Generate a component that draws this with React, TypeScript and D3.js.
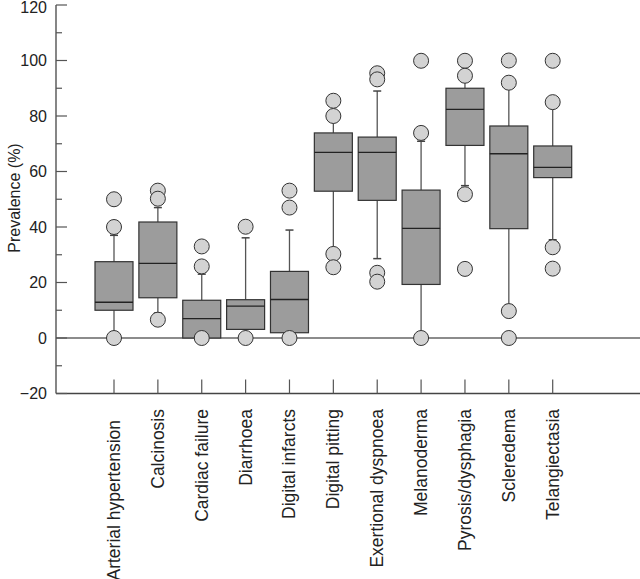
import React, { useEffect, useRef } from 'react';
import * as d3 from 'd3';

const categories = [
  'Arterial hypertension', 'Calcinosis', 'Cardiac failure', 'Diarrhoea', 'Digital infarcts',
  'Digital pitting', 'Exertional dyspnoea', 'Melanoderma', 'Pyrosis/dysphagia', 'Scleredema', 'Telangiectasia'
];
const q1 = [10, 14.5, 0, 3.1, 1.9, 52.9, 49.6, 19.3, 69.4, 39.4, 57.8];
const medians = [12.9, 26.9, 7, 11.5, 13.9, 66.9, 66.9, 39.5, 82.4, 66.4, 61.5];
const q3 = [27.5, 41.8, 13.6, 13.8, 24, 73.9, 72.4, 53.3, 90, 76.4, 69.2];
const whiskerLow = [2, 9, 0, 1, 1, 32, 28.6, 1, 54.9, 12, 35.4];
const whiskerHigh = [37, 47, 23, 36.1, 38.9, 78, 89, 70.9, 93, 90, 83];
const outliers = [
  [50, 40, 0],
  [53.1, 50.2, 6.6],
  [33, 25.8, 0],
  [40.1, 0],
  [53.1, 47, 0],
  [85.5, 80, 30.3, 25.5],
  [95.4, 93.2, 23.5, 20.3],
  [99.9, 73.9, 0],
  [99.9, 94.5, 51.8, 24.9],
  [100, 92, 9.7, 0],
  [99.9, 85, 32.7, 25]
];
const yTicks = [-20, 0, 20, 40, 60, 80, 100, 120];
const yMinorTicks = [-10, 10, 30, 50, 70, 90, 110];

export default function App() {
  const ref = useRef<SVGSVGElement>(null);

  useEffect(() => {
    document.body.style.margin = '0';
    const svg = d3.select(ref.current);
    svg.selectAll('*').remove();

    const width = 640;
    const height = 579;
    const left = 56;
    const font = 'Arial, "Liberation Sans", sans-serif';

    const y = d3.scaleLinear().domain([-20, 120]).range([393.5, 5]);
    const x = d3.scalePoint<string>().domain(categories).range([114, 552.7]);
    const boxW = 38;

    svg.attr('width', width).attr('height', height);

    // zero line
    svg.append('line')
      .attr('x1', left).attr('x2', width)
      .attr('y1', y(0)).attr('y2', y(0))
      .attr('stroke', '#8c8c8c').attr('stroke-width', 2);

    // axes
    svg.append('line')
      .attr('x1', left).attr('x2', left)
      .attr('y1', y(120)).attr('y2', y(-20))
      .attr('stroke', '#444').attr('stroke-width', 1.3);
    svg.append('line')
      .attr('x1', left).attr('x2', width)
      .attr('y1', y(-20)).attr('y2', y(-20))
      .attr('stroke', '#444').attr('stroke-width', 1.3);

    svg.selectAll('.ymaj').data(yTicks).enter().append('line')
      .attr('x1', left).attr('x2', left + 11)
      .attr('y1', d => y(d)).attr('y2', d => y(d))
      .attr('stroke', '#555').attr('stroke-width', 1.2);
    svg.selectAll('.ymin').data(yMinorTicks).enter().append('line')
      .attr('x1', left).attr('x2', left + 6)
      .attr('y1', d => y(d)).attr('y2', d => y(d))
      .attr('stroke', '#555').attr('stroke-width', 1.2);

    svg.selectAll('.ylab').data(yTicks).enter().append('text')
      .attr('x', 47).attr('y', d => Math.max(y(d), 7.5))
      .attr('dy', '0.35em')
      .attr('text-anchor', 'end')
      .style('font-family', font).style('font-size', '16px').attr('fill', '#222')
      .text(d => (d < 0 ? '\u2212' + Math.abs(d) : String(d)));

    svg.append('text')
      .attr('transform', `translate(14, 198) rotate(-90)`)
      .attr('dy', '0.35em')
      .attr('text-anchor', 'middle')
      .style('font-family', font).style('font-size', '16px').attr('fill', '#222')
      .text('Prevalence (%)');

    // category ticks and labels
    svg.selectAll('.xtick').data(categories).enter().append('line')
      .attr('x1', d => x(d)!).attr('x2', d => x(d)!)
      .attr('y1', y(-20) - 14).attr('y2', y(-20))
      .attr('stroke', '#555').attr('stroke-width', 1.2);

    svg.selectAll('.xlab').data(categories).enter().append('text')
      .attr('transform', (d, i) => `translate(${x(d)! + 6}, ${i === 0 ? 420 : 409}) rotate(-90)`)
      .attr('text-anchor', 'end')
      .style('font-family', font).style('font-size', '17.5px').attr('fill', '#222')
      .text(d => d);

    // boxes
    const g = svg.selectAll('.box').data(categories).enter().append('g')
      .attr('transform', d => `translate(${x(d)},0)`);

    g.append('line')
      .attr('x1', 0).attr('x2', 0)
      .attr('y1', (d, i) => y(whiskerHigh[i])).attr('y2', (d, i) => y(q3[i]))
      .attr('stroke', '#555').attr('stroke-width', 1.3);
    g.append('line')
      .attr('x1', 0).attr('x2', 0)
      .attr('y1', (d, i) => y(whiskerLow[i])).attr('y2', (d, i) => y(q1[i]))
      .attr('stroke', '#555').attr('stroke-width', 1.3);
    g.append('line')
      .attr('x1', -4).attr('x2', 4)
      .attr('y1', (d, i) => y(whiskerHigh[i])).attr('y2', (d, i) => y(whiskerHigh[i]))
      .attr('stroke', '#444').attr('stroke-width', 1.5);
    g.append('line')
      .attr('x1', -4).attr('x2', 4)
      .attr('y1', (d, i) => y(whiskerLow[i])).attr('y2', (d, i) => y(whiskerLow[i]))
      .attr('stroke', '#444').attr('stroke-width', 1.5);

    g.append('rect')
      .attr('x', -boxW / 2).attr('width', boxW)
      .attr('y', (d, i) => y(q3[i]))
      .attr('height', (d, i) => y(q1[i]) - y(q3[i]))
      .attr('fill', '#9c9c9c').attr('stroke', '#333').attr('stroke-width', 1.2);
    g.append('line')
      .attr('x1', -boxW / 2).attr('x2', boxW / 2)
      .attr('y1', (d, i) => y(medians[i])).attr('y2', (d, i) => y(medians[i]))
      .attr('stroke', '#222').attr('stroke-width', 1.4);

    g.selectAll('circle')
      .data((d, i) => outliers[i])
      .enter().append('circle')
      .attr('cx', 0).attr('cy', v => y(v)).attr('r', 7.5)
      .attr('fill', '#d3d3d3').attr('stroke', '#333').attr('stroke-width', 1);
  }, []);

  return <svg ref={ref}></svg>;
}
